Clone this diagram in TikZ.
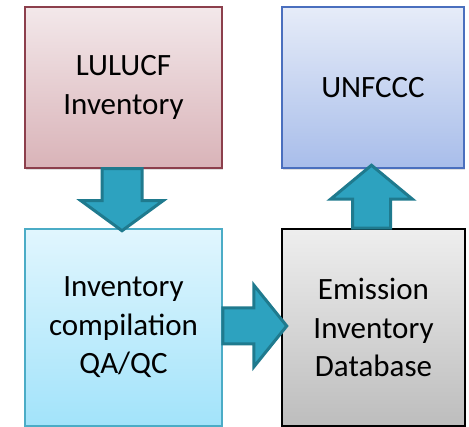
\documentclass[tikz,border=0pt]{standalone}
\usepackage{fontspec}
\setmainfont{Carlito}
\usetikzlibrary{calc,shadows}
\definecolor{luTop}{HTML}{F3E8EA}
\definecolor{luBot}{HTML}{D9B3B8}
\definecolor{luBrd}{HTML}{8C3F4C}
\definecolor{unTop}{HTML}{E6ECF8}
\definecolor{unBot}{HTML}{A8BDEA}
\definecolor{unBrd}{HTML}{4A6FBE}
\definecolor{coTop}{HTML}{E1F6FE}
\definecolor{coBot}{HTML}{A2E3FA}
\definecolor{coBrd}{HTML}{4BACC6}
\definecolor{emTop}{HTML}{EEEEEE}
\definecolor{emBot}{HTML}{BDBDBD}
\definecolor{arFill}{HTML}{2DA2BF}
\definecolor{arBrd}{HTML}{1F7A8E}
\tikzset{
  box/.style={draw, line width=1.5pt, align=center, inner sep=0pt,
    font=\fontsize{31}{38.5}\selectfont,
    drop shadow={opacity=0.25, shadow xshift=1pt, shadow yshift=-2pt}},
  blockarrow/.style={draw=arBrd, fill=arFill, line width=3pt, line join=miter}
}
\begin{document}
\begin{tikzpicture}[x=1pt,y=1pt]
\useasboundingbox (0,0) rectangle (469,427);
\node[box, draw=luBrd, top color=luTop, bottom color=luBot,
  minimum width=197pt, minimum height=161pt] (lulucf) at (123.5,339.5) {LULUCF\\Inventory};
\node[box, draw=unBrd, top color=unTop, bottom color=unBot,
  minimum width=182pt, minimum height=161pt] (unfccc) at (373,339.5) {UNFCCC};
\node[box, draw=coBrd, top color=coTop, bottom color=coBot,
  minimum width=197pt, minimum height=197pt] (comp) at (123.5,99.5) {Inventory\\compilation\\QA/QC};
\node[box, draw=black, top color=emTop, bottom color=emBot,
  minimum width=183pt, minimum height=197pt] (emis) at (373.5,99.5) {Emission\\Inventory\\Database};
% down arrow
\coordinate (d0) at ($(lulucf.south)+(-1.5,0)$);
\draw[blockarrow] ($(d0)+(-20,0)$) -- ($(d0)+(-20,-32)$) -- ($(d0)+(-41,-32)$)
  -- ($(d0)+(0,-62)$) -- ($(d0)+(41,-32)$) -- ($(d0)+(20,-32)$) -- ($(d0)+(20,0)$) -- cycle;
% up arrow
\coordinate (u0) at ($(emis.north)+(-2,0)$);
\draw[blockarrow] ($(u0)+(-19,0)$) -- ($(u0)+(-19,29)$) -- ($(u0)+(-41,29)$)
  -- ($(u0)+(0,63)$) -- ($(u0)+(41,29)$) -- ($(u0)+(19,29)$) -- ($(u0)+(19,0)$) -- cycle;
% right arrow
\coordinate (r0) at ($(comp.east)+(0,1.5)$);
\draw[blockarrow] ($(r0)+(0,18)$) -- ($(r0)+(31,18)$) -- ($(r0)+(31,41)$)
  -- ($(r0)+(64,0)$) -- ($(r0)+(31,-41)$) -- ($(r0)+(31,-18)$) -- ($(r0)+(0,-18)$) -- cycle;
\end{tikzpicture}
\end{document}
